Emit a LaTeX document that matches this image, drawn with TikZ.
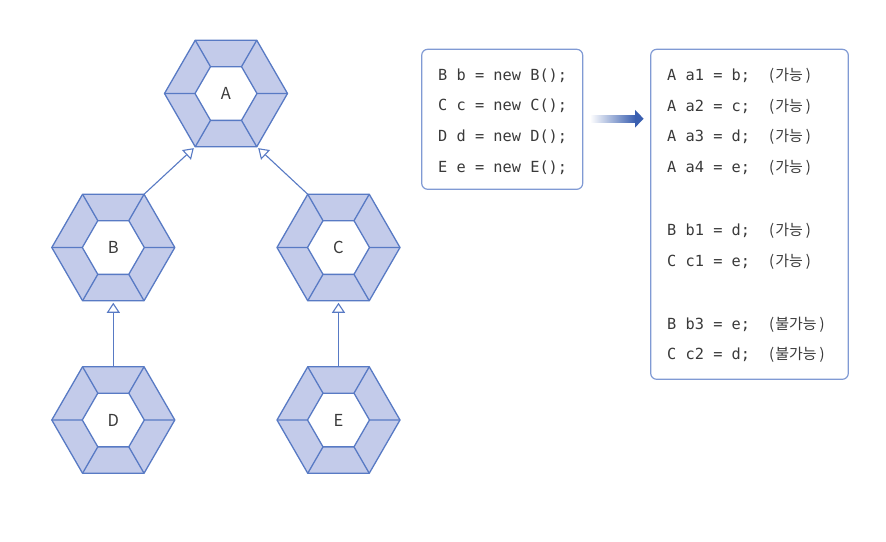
\documentclass[tikz,border=0pt]{standalone}
\usepackage{fontspec}
\setmainfont{Noto Sans CJK KR}
\newfontfamily\codefont{DejaVu Sans Mono}
\newfontfamily\kofont{Noto Sans CJK KR}
\usetikzlibrary{arrows.meta}
\definecolor{hexfill}{HTML}{C3CBEA}
\definecolor{hexline}{HTML}{587AC4}
\definecolor{boxline}{HTML}{809AD4}
\definecolor{txt}{HTML}{3A3A3A}
\definecolor{arrowblue}{HTML}{3A5FB0}
\tikzset{
  hexedge/.style={draw=hexline, line width=1.3pt, line join=round},
  hexlabel/.style={inner sep=0pt, text=txt, font=\fontsize{16.5}{18}\selectfont},
  inh/.style={draw=hexline, line width=1.1pt, shorten >=2pt, -{Triangle[length=10pt,width=13pt,fill=white,line width=1.1pt]}},
  box/.style={draw=boxline, line width=1.2pt, rounded corners=6pt, inner sep=0pt},
  codetxt/.style={anchor=base west, inner sep=0pt, text=txt, font=\codefont\fontsize{15.3}{18}\selectfont},
  kotxt/.style={anchor=base west, inner sep=0pt, text=txt, font=\kofont\fontsize{15}{17}\selectfont},
}
\newcommand\hexa[4]{%
 \begin{scope}[shift={(#2,#3)}]
  \fill[hexfill, even odd rule] (61.5,0) -- (30.75,53.26) -- (-30.75,53.26) -- (-61.5,0) -- (-30.75,-53.26) -- (30.75,-53.26) -- cycle
     (31,0) -- (15.5,26.85) -- (-15.5,26.85) -- (-31,0) -- (-15.5,-26.85) -- (15.5,-26.85) -- cycle;
  \draw[hexedge] (61.5,0) -- (30.75,53.26) -- (-30.75,53.26) -- (-61.5,0) -- (-30.75,-53.26) -- (30.75,-53.26) -- cycle;
  \draw[hexedge] (31,0) -- (15.5,26.85) -- (-15.5,26.85) -- (-31,0) -- (-15.5,-26.85) -- (15.5,-26.85) -- cycle;
  \draw[hexedge] (61.5,0) -- (31,0) (30.75,53.26) -- (15.5,26.85) (-30.75,53.26) -- (-15.5,26.85)
     (-61.5,0) -- (-31,0) (-30.75,-53.26) -- (-15.5,-26.85) (30.75,-53.26) -- (15.5,-26.85);
  \coordinate (#1-tl) at (-30.75,-53.26);
  \coordinate (#1-tr) at (30.75,-53.26);
  \coordinate (#1-bl) at (-30.75,53.26);
  \coordinate (#1-br) at (30.75,53.26);
  \coordinate (#1-t) at (0,-53.26);
  \coordinate (#1-b) at (0,53.26);
  \node[hexlabel] (#1) at (0,0) {#4};
 \end{scope}}
\begin{document}
\begin{tikzpicture}[x=1pt,y=-1pt]
\fill[white] (0,0) rectangle (886,541);
\useasboundingbox (0,0) rectangle (886,541);

\hexa{A}{226}{93.5}{A}
\hexa{B}{113.3}{247.5}{B}
\hexa{C}{338.5}{247.5}{C}
\hexa{D}{113.3}{420}{D}
\hexa{E}{338.5}{420}{E}

\draw[inh] (B-tr) -- (A-bl);
\draw[inh] (C-tl) -- (A-br);
\draw[inh] (D-t) -- (B-b);
\draw[inh] (E-t) -- (C-b);

\node[box, minimum width=161pt, minimum height=140pt] (code) at (502.2,119.3) {};
\node[codetxt] (c1) at (438,80.2) {B b = new B();};
\node[codetxt] (c2) at (438,110.9) {C c = new C();};
\node[codetxt] (c3) at (438,141.6) {D d = new D();};
\node[codetxt] (c4) at (438,172.3) {E e = new E();};

\node[box, minimum width=197.6pt, minimum height=330pt] (res) at (749.5,214.3) {};
\node[codetxt] (r1) at (667,80.5) {A a1 = b;};
\node[codetxt] (r2) at (667,111.2) {A a2 = c;};
\node[codetxt] (r3) at (667,141.9) {A a3 = d;};
\node[codetxt] (r4) at (667,172.6) {A a4 = e;};
\node[codetxt] (r5) at (667,235.8) {B b1 = d;};
\node[codetxt] (r6) at (667,266.5) {C c1 = e;};
\node[codetxt] (r7) at (667,329.2) {B b3 = e;};
\node[codetxt] (r8) at (667,359.9) {C c2 = d;};
\node[kotxt] (k1) at (769,80.5) {(\kern1pt 가능\kern3pt)};
\node[kotxt] (k2) at (769,111.2) {(\kern1pt 가능\kern3pt)};
\node[kotxt] (k3) at (769,141.9) {(\kern1pt 가능\kern3pt)};
\node[kotxt] (k4) at (769,172.6) {(\kern1pt 가능\kern3pt)};
\node[kotxt] (k5) at (769,235.8) {(\kern1pt 가능\kern3pt)};
\node[kotxt] (k6) at (769,266.5) {(\kern1pt 가능\kern3pt)};
\node[kotxt] (k7) at (769,329.2) {(\kern1pt 불가능\kern3pt)};
\node[kotxt] (k8) at (769,359.9) {(\kern1pt 불가능\kern3pt)};

\coordinate (ge) at ([xshift=-6.5pt]res.west |- 0,118.7);
\shade[left color=white, right color=arrowblue] (590,115.2) rectangle (635.5,122.2);
\fill[arrowblue] (635,109.8) -- (ge) -- (635,127.6) -- cycle;
\end{tikzpicture}
\end{document}
